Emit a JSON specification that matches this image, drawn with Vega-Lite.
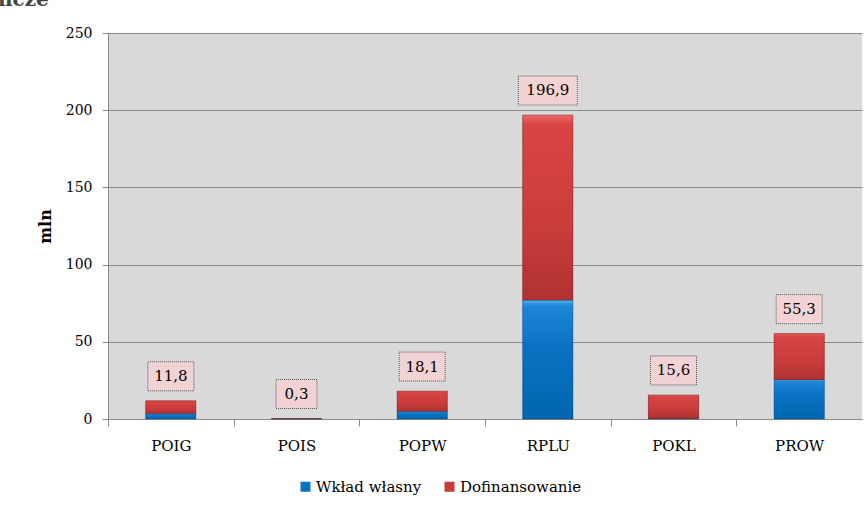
{
  "$schema": "https://vega.github.io/schema/vega-lite/v6.json",
  "width": 754,
  "height": 386,
  "autosize": {"type": "none"},
  "padding": {"left": 108, "top": 33, "right": 5, "bottom": 87},
  "background": "white",
  "title": {"text": "ncze", "anchor": "start", "frame": "group", "font": "DejaVu Serif", "fontSize": 20, "fontWeight": "bold", "color": "#444444", "baseline": "alphabetic", "offset": 0, "dx": -110},
  "config": {
    "view": {"fill": "#d9d9d9", "stroke": null},
    "font": "DejaVu Serif"
  },
  "datasets": {
    "parts": [
      {"prog": "POIG", "series": "Wkład własny", "value": 3.5},
      {"prog": "POIG", "series": "Dofinansowanie", "value": 8.3},
      {"prog": "POIS", "series": "Wkład własny", "value": 0.1},
      {"prog": "POIS", "series": "Dofinansowanie", "value": 0.2},
      {"prog": "POPW", "series": "Wkład własny", "value": 5.0},
      {"prog": "POPW", "series": "Dofinansowanie", "value": 13.1},
      {"prog": "RPLU", "series": "Wkład własny", "value": 77.0},
      {"prog": "RPLU", "series": "Dofinansowanie", "value": 119.9},
      {"prog": "POKL", "series": "Wkład własny", "value": 0.4},
      {"prog": "POKL", "series": "Dofinansowanie", "value": 15.2},
      {"prog": "PROW", "series": "Wkład własny", "value": 25.5},
      {"prog": "PROW", "series": "Dofinansowanie", "value": 29.8}
    ],
    "totals": [
      {"prog": "POIG", "total": 11.8, "label": "11,8"},
      {"prog": "POIS", "total": 0.3, "label": "0,3"},
      {"prog": "POPW", "total": 18.1, "label": "18,1"},
      {"prog": "RPLU", "total": 196.9, "label": "196,9"},
      {"prog": "POKL", "total": 15.6, "label": "15,6"},
      {"prog": "PROW", "total": 55.3, "label": "55,3"}
    ]
  },
  "layer": [
    {
      "data": {"name": "parts"},
      "transform": [{"stack": "value", "groupby": ["prog"], "sort": [{"field": "series", "order": "descending"}], "as": ["v0", "v1"]}],
      "mark": {"type": "bar"},
      "encoding": {
        "x": {
          "field": "prog", "type": "nominal",
          "sort": ["POIG", "POIS", "POPW", "RPLU", "POKL", "PROW"],
          "scale": {"paddingInner": 0.6, "paddingOuter": 0.3},
          "axis": {"title": null, "labelAngle": 0, "tickOffset": -62.83, "labelOffset": 62.83, "tickSize": 7, "domainColor": "#8c8c8c", "tickColor": "#8c8c8c", "labelFontSize": 15, "labelPadding": 12, "labelColor": "#000000", "labelFont": "DejaVu Serif"}
        },
        "y": {
          "field": "v0", "type": "quantitative",
          "scale": {"domain": [0, 250], "nice": false},
          "axis": {"title": "mln", "titleFont": "DejaVu Serif", "titleFontSize": 16, "titleFontWeight": "bold", "titleColor": "#000000", "values": [0, 50, 100, 150, 200, 250], "grid": true, "gridColor": "#8a8a8a", "domainColor": "#8a8a8a", "tickColor": "#8a8a8a", "tickSize": 6, "labelPadding": 10, "labelFontSize": 14, "labelFont": "DejaVu Serif", "labelColor": "#000000", "titlePadding": 12}
        },
        "y2": {"field": "v1"},
        "color": {
          "field": "series", "type": "nominal",
          "scale": {"domain": ["Wkład własny", "Dofinansowanie"], "range": ["#0a72c2", "#c63a3a"]},
          "legend": {"title": null, "orient": "none", "legendX": 190, "legendY": 446, "direction": "horizontal", "symbolType": "square", "symbolSize": 100, "symbolStrokeWidth": 0, "labelFontSize": 15, "labelFont": "DejaVu Serif", "labelColor": "#000000", "columnPadding": 20, "labelOffset": 3}
        }
      }
    },
    {
      "data": {"name": "parts"},
      "transform": [
        {"stack": "value", "groupby": ["prog"], "sort": [{"field": "series", "order": "descending"}], "as": ["v0", "v1"]},
        {"filter": "datum.series === 'Wkład własny'"}
      ],
      "mark": {"type": "bar", "stroke": "#003a6a", "strokeOpacity": 0.35, "strokeWidth": 1,
        "fill": {"gradient": "linear", "x1": 0, "y1": 0, "x2": 0, "y2": 1, "stops": [{"offset": 0, "color": "#4fb3f0"}, {"offset": 0.05, "color": "#1c86d6"}, {"offset": 0.4, "color": "#0a72c2"}, {"offset": 1, "color": "#0066b0"}]}},
      "encoding": {
        "x": {"field": "prog", "type": "nominal", "sort": ["POIG", "POIS", "POPW", "RPLU", "POKL", "PROW"]},
        "y": {"field": "v0", "type": "quantitative", "title": "mln"},
        "y2": {"field": "v1"}
      }
    },
    {
      "data": {"name": "parts"},
      "transform": [
        {"stack": "value", "groupby": ["prog"], "sort": [{"field": "series", "order": "descending"}], "as": ["v0", "v1"]},
        {"filter": "datum.series === 'Dofinansowanie'"}
      ],
      "mark": {"type": "bar", "stroke": "#5a1010", "strokeOpacity": 0.35, "strokeWidth": 1,
        "fill": {"gradient": "linear", "x1": 0, "y1": 0, "x2": 0, "y2": 1, "stops": [{"offset": 0, "color": "#ec6a6a"}, {"offset": 0.05, "color": "#d94444"}, {"offset": 0.6, "color": "#c93c3c"}, {"offset": 1, "color": "#b03232"}]}},
      "encoding": {
        "x": {"field": "prog", "type": "nominal", "sort": ["POIG", "POIS", "POPW", "RPLU", "POKL", "PROW"]},
        "y": {"field": "v0", "type": "quantitative", "title": "mln"},
        "y2": {"field": "v1"}
      }
    },
    {
      "data": {"name": "totals"},
      "mark": {"type": "bar", "fill": "#f2d3d3", "stroke": "#555555", "strokeDash": [1, 1], "strokeWidth": 1, "yOffset": -39, "y2Offset": -10},
      "encoding": {
        "x": {"field": "prog", "type": "nominal", "sort": ["POIG", "POIS", "POPW", "RPLU", "POKL", "PROW"]},
        "y": {"field": "total", "type": "quantitative", "title": "mln"},
        "y2": {"field": "total"},
        "size": {"field": "total", "type": "quantitative", "scale": {"type": "threshold", "domain": [1, 100], "range": [41, 46, 59]}, "legend": null}
      }
    },
    {
      "data": {"name": "totals"},
      "mark": {"type": "text", "fontSize": 15, "font": "DejaVu Serif", "color": "#000000", "baseline": "middle", "dy": -24.5},
      "encoding": {
        "x": {"field": "prog", "type": "nominal", "sort": ["POIG", "POIS", "POPW", "RPLU", "POKL", "PROW"]},
        "y": {"field": "total", "type": "quantitative", "title": "mln"},
        "text": {"field": "label"}
      }
    }
  ]
}
